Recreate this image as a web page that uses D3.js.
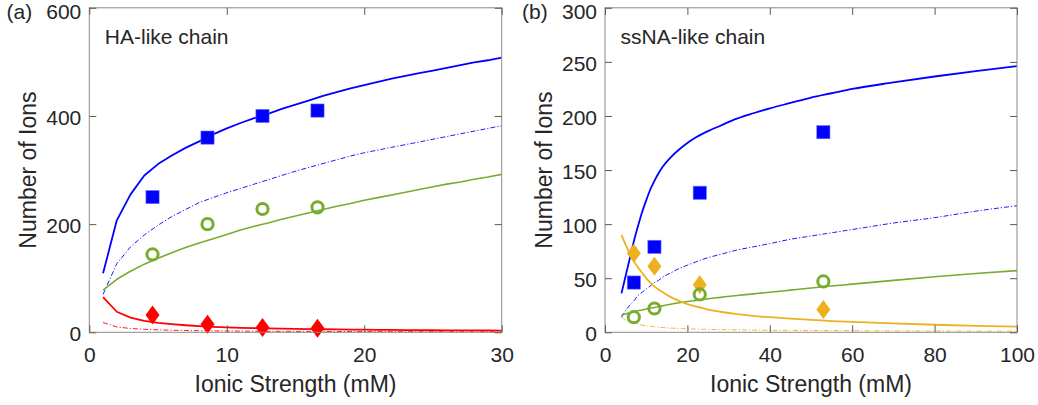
<!DOCTYPE html>
<html>
<head>
<meta charset="utf-8">
<script src="https://cdn.jsdelivr.net/npm/d3@7"></script>
<style>
  html, body { margin: 0; padding: 0; background: #fff; }
  svg { display: block; }
  text { font-family: "Liberation Sans", Arial, Helvetica, sans-serif; fill: #262626; }
</style>
</head>
<body>
<svg id="fig" width="1038" height="405"></svg>
<script>
// ---------- Panel (a): HA-like chain ----------
const xCurveA = [1,2,3,4,5,6,7,8,9,10,11,12,13,14,15,16,17,18,19,20,21,22,23,24,25,26,27,28,29,30];
const totalA   = [109,207,255,290,311,327,341,353,366,377,387,396,404,413,421,429,437,444,451,457,463,469,474,479,484,489,494,499,503,508];
const totalDdA = [70,127,158,180,198,214,227,240,249,258,266,274,282,290,298,305,312,319,326,332,337,342,347,352,357,362,367,372,377,382];
const monoA    = [78,98,113,126,137,147,157,165,173,181,189,196,202,209,215,221,227,233,238,244,249,254,259,264,269,274,278,283,287,292];
const coionA   = [65,38,27,21,17.5,15,13,11.5,10,9,8.3,7.7,7.2,6.7,6.3,5.9,5.6,5.3,5,4.8,4.6,4.4,4.2,4,3.8,3.7,3.5,3.4,3.3,3.2];
const coionDdA = [18,10,7,5.5,4.5,3.8,3.3,2.9,2.6,2.4,2.2,2.0,1.9,1.8,1.7,1.6,1.5,1.45,1.4,1.35,1.3,1.25,1.2,1.15,1.1,1.07,1.04,1.0,0.97,0.95];

const xMarkA    = [4.6, 8.6, 12.6, 16.6];
const squaresA  = [250, 360, 400, 410];
const circlesA  = [144, 200, 228, 231];
const diamondsA = [32, 15, 9, 7.5];

const xTicksA = [0, 10, 20, 30];
const yTicksA = [0, 200, 400, 600];

// ---------- Panel (b): ssNA-like chain ----------
const xCurveB = [4,5,6,7,8,9,10,11,12,13,14,16,18,20,22,25,28,32,36,40,45,50,55,60,70,80,90,100];
const totalB   = [36,52,68,84,98,111,122,132,140,147,153,162,169,175,180,186,191,197.5,202.5,207,212,217,221,225,231,236.5,241.5,246];
const totalDdB = [14,20,25,29,34,37,40,43,46,48,51,55,59,62,65,69,72,76,79,82,86,89,92,95,101,106,112,117];
const monoB    = [16,17,18,19,19.9,20.7,21.5,22.3,23,23.8,24.5,26,27.3,28.5,29.5,31,32.3,34,35.5,37,39,41,42.8,44.5,48,51.3,54.3,57];
const diB      = [90,81,73,66,60,55,50,46,42.5,39.5,37,32.5,29,26,24,21,19,16.8,15.2,14,12.6,11.5,10.4,9.6,8.2,7,6,5.2];
const diDdB    = [14,11.5,9.7,8.4,7.4,6.6,6,5.5,5.1,4.7,4.4,3.9,3.5,3.2,3,2.7,2.5,2.3,2.1,1.9,1.8,1.7,1.6,1.5,1.3,1.2,1.1,1];

const xMarkB    = [7, 12, 23, 53];
const squaresB  = [46, 79, 129, 185];
const circlesB  = [14, 22, 35, 47];
const diamondsB = [73, 61, 44, 21];

const xTicksB = [0, 20, 40, 60, 80, 100];
const yTicksB = [0, 50, 100, 150, 200, 250, 300];

const BLUE = "#0000ff", GREEN = "#77ac30", RED = "#ff0000", ORANGE = "#edb120";
const DASHDOT = "5,2,1.2,2";

const svg = d3.select("#fig");

function panel(cfg) {
  const x = d3.scaleLinear().domain(cfg.xDomain).range([cfg.left, cfg.right]);
  const y = d3.scaleLinear().domain(cfg.yDomain).range([cfg.bottom, cfg.top]);
  const g = svg.append("g");

  const clipId = "clip-" + cfg.id;
  g.append("clipPath").attr("id", clipId)
    .append("rect").attr("x", cfg.left).attr("y", cfg.top)
    .attr("width", cfg.right - cfg.left).attr("height", cfg.bottom - cfg.top);

  const plot = g.append("g").attr("clip-path", `url(#${clipId})`);
  const line = d3.line().x(d => x(d[0])).y(d => y(d[1])).curve(cfg.curve);

  cfg.curves.forEach(c => {
    plot.append("path")
      .datum(c.xs.map((v, i) => [v, c.ys[i]]))
      .attr("d", line)
      .attr("fill", "none")
      .attr("stroke", c.color)
      .attr("stroke-width", c.width)
      .attr("stroke-dasharray", c.dash || null)
      .attr("stroke-linejoin", "round");
  });

  // markers
  const mk = g.append("g");
  const sq = 13.2;
  mk.selectAll("rect.sq").data(cfg.xMark.map((v, i) => [v, cfg.squares[i]]))
    .enter().append("rect")
    .attr("x", d => x(d[0]) - sq / 2).attr("y", d => y(d[1]) - sq / 2)
    .attr("width", sq).attr("height", sq)
    .attr("fill", BLUE).attr("stroke", "#7070ff").attr("stroke-width", 0.6);
  const dw = 7, dh = 9.5;
  mk.selectAll("path.dia").data(cfg.xMark.map((v, i) => [v, cfg.diamonds[i]]))
    .enter().append("path")
    .attr("d", d => {
      const cx = x(d[0]), cy = y(d[1]);
      return `M${cx},${cy - dh}L${cx + dw},${cy}L${cx},${cy + dh}L${cx - dw},${cy}Z`;
    })
    .attr("fill", cfg.diaColor);
  mk.selectAll("circle.ci").data(cfg.xMark.map((v, i) => [v, cfg.circles[i]]))
    .enter().append("circle")
    .attr("cx", d => x(d[0])).attr("cy", d => y(d[1])).attr("r", 5.6)
    .attr("fill", "none").attr("stroke", GREEN).attr("stroke-width", 3);

  // axes box
  g.append("rect").attr("x", cfg.left).attr("y", cfg.top)
    .attr("width", cfg.right - cfg.left).attr("height", cfg.bottom - cfg.top)
    .attr("fill", "none").attr("stroke", "#8a8a8a").attr("stroke-width", 1);

  const tl = 7;
  // bottom / top ticks with labels
  const xAxisB = d3.axisBottom(x).tickValues(cfg.xTicks).tickSize(-tl).tickPadding(0).tickFormat(d3.format("d"));
  const gx = g.append("g").attr("transform", `translate(0,${cfg.bottom})`).call(xAxisB);
  gx.select(".domain").remove();
  gx.selectAll(".tick line").attr("stroke", "#5a5a5a");
  gx.selectAll(".tick text")
    .attr("y", 29.5).attr("dy", null)
    .style("font-size", "21px").attr("fill", "#262626")
    .attr("font-family", null);
  const xAxisT = d3.axisTop(x).tickValues(cfg.xTicks).tickSize(-tl).tickFormat("");
  const gxt = g.append("g").attr("transform", `translate(0,${cfg.top})`).call(xAxisT);
  gxt.select(".domain").remove();
  gxt.selectAll(".tick line").attr("stroke", "#5a5a5a");

  const yAxisL = d3.axisLeft(y).tickValues(cfg.yTicks).tickSize(-tl).tickPadding(0).tickFormat(d3.format("d"));
  const gy = g.append("g").attr("transform", `translate(${cfg.left},0)`).call(yAxisL);
  gy.select(".domain").remove();
  gy.selectAll(".tick line").attr("stroke", "#5a5a5a");
  gy.selectAll(".tick text")
    .attr("x", -8).attr("dy", null)
    .attr("y", d => Math.max(y(d) + 8.3, cfg.top + 10.5) - y(d))
    .style("font-size", "21px").attr("fill", "#262626")
    .attr("font-family", null);
  const yAxisR = d3.axisRight(y).tickValues(cfg.yTicks).tickSize(-tl).tickFormat("");
  const gyr = g.append("g").attr("transform", `translate(${cfg.right},0)`).call(yAxisR);
  gyr.select(".domain").remove();
  gyr.selectAll(".tick line").attr("stroke", "#5a5a5a");

  // axis titles
  g.append("text").attr("x", (cfg.left + cfg.right) / 2).attr("y", 391.5)
    .attr("text-anchor", "middle").style("font-size", "23px").text("Ionic Strength (mM)");
  g.append("text")
    .attr("transform", `translate(${cfg.left - 53},${(cfg.top + cfg.bottom) / 2}) rotate(-90)`)
    .attr("text-anchor", "middle").style("font-size", "23px").text("Number of Ions");

  // panel tag and chain label
  g.append("text").attr("x", cfg.tagX).attr("y", 19.2).style("font-size", "21px").text(cfg.tag);
  g.append("text").attr("x", cfg.left + 15.5).attr("y", 44.3).style("font-size", "21px").text(cfg.label);
}

panel({
  id: "a", left: 89.3, right: 501.7, top: 7.8, bottom: 332.3,
  xDomain: [0, 30], yDomain: [0, 600],
  xTicks: xTicksA, yTicks: yTicksA, curve: d3.curveLinear,
  tag: "(a)", tagX: 6.5, label: "HA-like chain",
  curves: [
    { xs: xCurveA, ys: coionDdA, color: RED, width: 0.9, dash: DASHDOT },
    { xs: xCurveA, ys: totalDdA, color: BLUE, width: 0.9, dash: DASHDOT },
    { xs: xCurveA, ys: monoA, color: GREEN, width: 1.6 },
    { xs: xCurveA, ys: coionA, color: RED, width: 1.8 },
    { xs: xCurveA, ys: totalA, color: BLUE, width: 1.8 }
  ],
  xMark: xMarkA, squares: squaresA, circles: circlesA, diamonds: diamondsA, diaColor: RED
});

panel({
  id: "b", left: 605, right: 1017, top: 7.8, bottom: 332.3,
  xDomain: [0, 100], yDomain: [0, 300],
  xTicks: xTicksB, yTicks: yTicksB, curve: d3.curveMonotoneX,
  tag: "(b)", tagX: 522, label: "ssNA-like chain",
  curves: [
    { xs: xCurveB, ys: diDdB, color: ORANGE, width: 0.9, dash: DASHDOT },
    { xs: xCurveB, ys: totalDdB, color: BLUE, width: 0.9, dash: DASHDOT },
    { xs: xCurveB, ys: monoB, color: GREEN, width: 1.6 },
    { xs: xCurveB, ys: diB, color: ORANGE, width: 1.8 },
    { xs: xCurveB, ys: totalB, color: BLUE, width: 1.8 }
  ],
  xMark: xMarkB, squares: squaresB, circles: circlesB, diamonds: diamondsB, diaColor: ORANGE
});
</script>
</body>
</html>
